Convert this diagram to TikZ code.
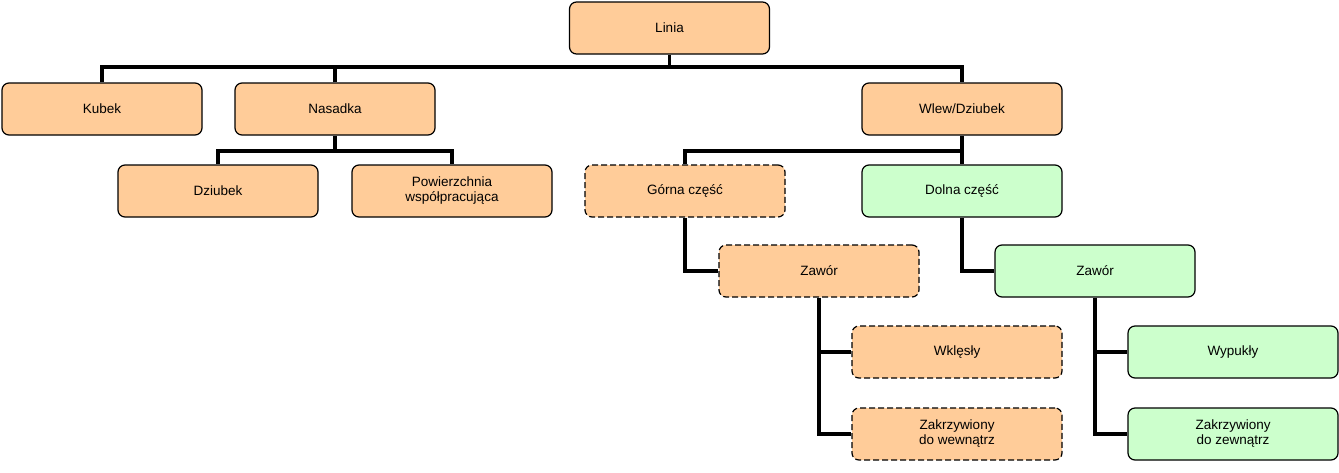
\documentclass[tikz,border=0pt]{standalone}
\usepackage{fontspec}
\setmainfont{Liberation Sans}
\begin{document}
\begin{tikzpicture}[x=1pt,y=-1pt,
  box/.style={draw,line width=1.2pt,rounded corners=7pt,minimum width=200pt,minimum height=52pt,align=center,font=\fontsize{13.5}{15}\selectfont,inner sep=2pt},
  org/.style={box,fill={rgb,255:red,255;green,204;blue,153}},
  grn/.style={box,fill={rgb,255:red,204;green,255;blue,204}},
  dsh/.style={dash pattern=on 6pt off 3pt},
  wide/.style={minimum width=210pt},
  ln/.style={line width=3.5pt}]
\useasboundingbox (0,0) rectangle (1339,472);
\node[org] (linia) at (669.5,28) {Linia};
\node[org] (kubek) at (102,109) {Kubek};
\node[org] (nas) at (335,109) {Nasadka};
\node[org] (wlew) at (962,109) {Wlew/Dziubek};
\node[org] (dz) at (218,191) {Dziubek};
\node[org] (pow) at (452,191) {Powierzchnia\\współpracująca};
\node[org,dsh] (gor) at (685,191) {Górna część};
\node[grn] (dol) at (962,191) {Dolna część};
\node[org,dsh] (z1) at (819,271) {Zawór};
\node[grn] (z2) at (1095,271) {Zawór};
\node[org,dsh,wide] (wk) at (957,352) {Wklęsły};
\node[org,dsh,wide] (zw) at (957,434) {Zakrzywiony\\do wewnątrz};
\node[grn,wide] (wy) at (1233,352) {Wypukły};
\node[grn,wide] (zz) at (1233,434) {Zakrzywiony\\do zewnątrz};
\coordinate (b1) at (669.5,67);
\coordinate (b2) at (335,151);
\coordinate (b3) at (962,151);
\draw[ln] (linia.south) -- (b1);
\draw[ln] (kubek.north) |- (b1) -| (wlew.north);
\draw[ln] (nas.north) -- ++(0,-16);
\draw[ln] (nas.south) -- (b2);
\draw[ln] (dz.north) |- (b2) -| (pow.north);
\draw[ln] (wlew.south) -- (b3);
\draw[ln] (gor.north) |- (b3) -- (dol.north);
\draw[ln] (gor.south) |- (z1.west);
\draw[ln] (dol.south) |- (z2.west);
\draw[ln] (z1.south) |- (wk.west);
\draw[ln] (z1.south) |- (zw.west);
\draw[ln] (z2.south) |- (wy.west);
\draw[ln] (z2.south) |- (zz.west);
\end{tikzpicture}
\end{document}
